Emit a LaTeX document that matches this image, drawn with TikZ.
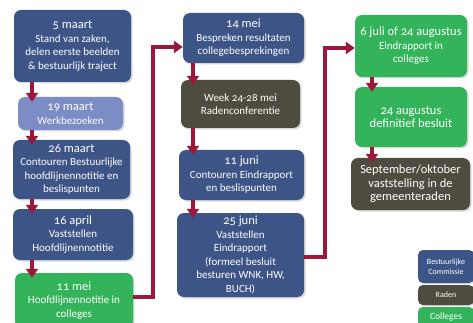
\documentclass[tikz,border=0pt]{standalone}
\usepackage{fontspec}
\setmainfont[Numbers=OldStyle]{Carlito}
\usetikzlibrary{arrows.meta,shadows}
\definecolor{cblue}{RGB}{61,84,135}
\definecolor{clight}{RGB}{124,140,196}
\definecolor{cgreen}{RGB}{52,180,90}
\definecolor{colive}{RGB}{78,75,63}
\definecolor{cred}{RGB}{156,24,58}
\newcommand\mytitle[1]{{\fontsize{12.5}{14}\selectfont #1}}
\tikzset{
  box/.style={rounded corners=7pt, text=white, align=center, inner sep=2pt,
    font=\fontsize{11}{13.5}\selectfont,
    drop shadow={opacity=0.3, shadow xshift=1.5pt, shadow yshift=-1.5pt}},
  bluebox/.style={box, fill=cblue},
  lightbox/.style={box, fill=clight},
  greenbox/.style={box, fill=cgreen},
  olivebox/.style={box, fill=colive},
  legbox/.style={rounded corners=5pt, text=white, align=center, inner sep=1pt,
    font=\fontsize{8}{9.5}\selectfont, minimum width=56pt,
    drop shadow={opacity=0.3, shadow xshift=1pt, shadow yshift=-1pt}},
  arr/.style={draw=cred, line width=4pt, -{Triangle[width=12pt,length=9pt]}, shorten >=-5pt},
  link/.style={draw=cred, line width=4pt, -{Triangle[width=12pt,length=9pt]}},
}
\begin{document}
\begin{tikzpicture}[x=1pt,y=-1pt]
\useasboundingbox[fill=white] (0,0) rectangle (473,323);
% left column
\node[bluebox, minimum width=117pt, minimum height=72pt] (b1) at (72.5,46)
  {\mytitle{5 maart}\\Stand van zaken,\\delen eerste beelden\\\& bestuurlijk traject};
\node[lightbox, minimum width=105pt, minimum height=33pt] (b2) at (70.5,113.5)
  {\mytitle{19 maart}\\Werkbezoeken};
\node[bluebox, minimum width=117pt, minimum height=59pt] (b3) at (71.5,169.5)
  {\mytitle{26 maart}\\Contouren Bestuurlijke\\hoofdlijnennotitie en\\beslispunten};
\node[bluebox, minimum width=120pt, minimum height=51pt] (b4) at (73,234.5)
  {\mytitle{16 april}\\Vaststellen\\Hoofdlijnennotitie};
\node[greenbox, minimum width=118pt, minimum height=55pt] (b5) at (74,300.5)
  {\mytitle{11 mei}\\Hoofdlijnennotitie in\\colleges};
% middle column
\node[bluebox, minimum width=121pt, minimum height=50pt] (m1) at (243.5,38)
  {\mytitle{14 mei}\\Bespreken resultaten\\collegebesprekingen};
\node[olivebox, minimum width=119pt, minimum height=48pt] (m2) at (240.5,104)
  {Week 24-28 mei\\Radenconferentie};
\node[bluebox, minimum width=125pt, minimum height=50pt] (m3) at (241.5,175)
  {\mytitle{11 juni}\\Contouren Eindrapport\\en beslispunten};
\node[bluebox, minimum width=127pt, minimum height=84pt] (m4) at (240.5,255)
  {\mytitle{25 juni}\\Vaststellen\\Eindrapport\\(formeel besluit\\besturen WNK, HW,\\BUCH)};
% right column
\node[greenbox, minimum width=112pt, minimum height=62pt] (r1) at (411,46)
  {\mytitle{6 juli of 24 augustus}\\Eindrapport in\\colleges};
\node[greenbox, minimum width=112pt, minimum height=60pt] (r2) at (411,117)
  {\mytitle{24 augustus}\\\mytitle{definitief besluit}};
\node[olivebox, minimum width=119pt, minimum height=52pt] (r3) at (410.5,184)
  {\mytitle{September/oktober}\\\mytitle{vaststelling in de}\\\mytitle{gemeenteraden}};
% legend
\node[legbox, fill=cblue, minimum height=33pt] (l1) at (446,266.5) {Bestuurlijke\\Commissie};
\node[legbox, fill=colive, minimum height=20pt] (l2) at (446,295) {Raden};
\node[legbox, fill=cgreen, minimum height=20pt, font=\fontsize{9.5}{11}\selectfont] (l3) at (446,317) {Colleges};
% column axes
\coordinate (xl) at (32,0);
\coordinate (xm) at (193,0);
\coordinate (xr) at (372,0);
% vertical arrows
\draw[arr] (b1.south -| xl) -- (b2.north -| xl);
\draw[arr] (b2.south -| xl) -- (b3.north -| xl);
\draw[arr] (b3.south -| xl) -- (b4.north -| xl);
\draw[arr] (b4.south -| xl) -- (b5.north -| xl);
\draw[arr] (m1.south -| xm) -- (m2.north -| xm);
\draw[arr] (m2.south -| xm) -- (m3.north -| xm);
\draw[arr] (m3.south -| xm) -- (m4.north -| xm);
\draw[arr] (r1.south -| xr) -- (r2.north -| xr);
\draw[arr] (r2.south -| xr) -- (r3.north -| xr);
% long connectors
\coordinate (k0) at (153,297);
\coordinate (k1) at (153,47);
\draw[link] (b5.east |- k0) -- (k0) -- (k1) -- (m1.west |- k1);
\coordinate (k2) at (325,257);
\coordinate (k3) at (325,48);
\draw[link] (m4.east |- k2) -- (k2) -- (k3) -- (r1.west |- k3);
\end{tikzpicture}
\end{document}
